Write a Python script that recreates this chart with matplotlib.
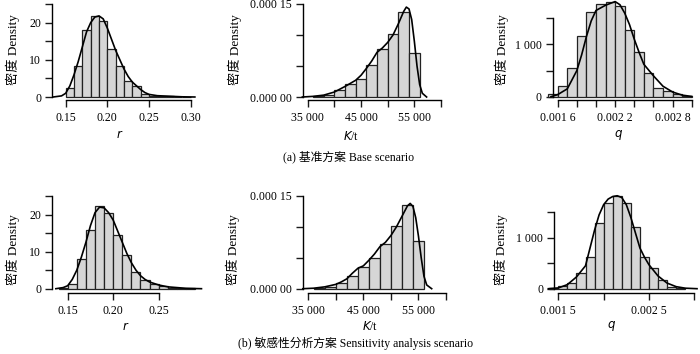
import matplotlib
matplotlib.use("Agg")
import matplotlib.pyplot as plt

plt.rcParams['font.family'] = ['Liberation Serif', 'Noto Sans CJK SC']
plt.rcParams['font.size'] = 8.5

# ---------------- data ----------------
# (a) base scenario
r_a_edges = [0.15, 0.16, 0.17, 0.18, 0.19, 0.20, 0.21, 0.22, 0.23, 0.24, 0.25, 0.26, 0.27, 0.28, 0.29]
r_a_dens = [2.5, 8.2, 18.0, 21.8, 20.5, 12.9, 8.2, 4.2, 2.9, 0.7, 0.4, 0.2, 0.2, 0.1, 0.1]
r_a_kx = [0.135, 0.145, 0.15, 0.155, 0.16, 0.165, 0.17, 0.175, 0.18, 0.185, 0.19, 0.195, 0.20,
          0.205, 0.21, 0.215, 0.22, 0.225, 0.23, 0.235, 0.24, 0.245, 0.25, 0.26, 0.27, 0.28, 0.29, 0.305]
r_a_ky = [0.0, 0.3, 1.0, 3.0, 6.0, 9.5, 13.5, 17.5, 20.0, 21.5, 21.8, 21.0, 18.5,
          15.5, 12.5, 10.0, 7.5, 5.5, 4.0, 3.0, 2.0, 1.2, 0.7, 0.35, 0.25, 0.15, 0.05, 0.0]

K_a_edges = [36000, 38000, 40000, 42000, 44000, 46000, 48000, 50000, 52000, 54000]
K_a_dens = [2.0e-6, 3.0e-6, 1.08e-5, 2.05e-5, 2.86e-5, 5.23e-5, 7.77e-5, 1.009e-4, 1.376e-4, 7.12e-5]
K_a_kx = [34000, 36000, 38000, 40000, 42000, 44000, 45000, 46000, 47000, 48000, 49000, 50000,
          51000, 52000, 53000, 53500, 54000, 54500, 55000, 55500, 56000, 56500, 57300]
K_a_ky = [0.0, 1.0e-6, 3.0e-6, 8.0e-6, 1.7e-5, 2.7e-5, 3.5e-5, 4.6e-5, 5.8e-5, 7.2e-5, 7.9e-5, 8.8e-5,
          1.0e-4, 1.18e-4, 1.38e-4, 1.45e-4, 1.42e-4, 1.25e-4, 9.0e-5, 5.0e-5, 2.0e-5, 6.0e-6, 0.0]

q_a_edges = [0.0015, 0.0016, 0.0017, 0.0018, 0.0019, 0.0020, 0.0021, 0.0022, 0.0023, 0.0024,
             0.0025, 0.0026, 0.0027, 0.0028, 0.0029]
q_a_dens = [50, 212, 551, 1167, 1628, 1782, 1808, 1731, 1282, 846, 462, 173, 115, 45, 15]
q_a_kx = [0.00153, 0.0016, 0.0017, 0.0018, 0.00185, 0.0019, 0.00195, 0.0020, 0.00205, 0.0021,
          0.0022, 0.00225, 0.0023, 0.00235, 0.0024, 0.00245, 0.0025, 0.0026, 0.0027, 0.0028,
          0.0029, 0.0030]
q_a_ky = [0, 40, 150, 500, 800, 1150, 1450, 1650, 1700, 1750,
          1820, 1760, 1600, 1380, 1100, 850, 620, 400, 200, 90, 30, 5]

# (b) sensitivity analysis scenario
r_b_edges = [0.14, 0.15, 0.16, 0.17, 0.18, 0.19, 0.20, 0.21, 0.22, 0.23, 0.24, 0.25, 0.26, 0.27, 0.28]
r_b_dens = [0.3, 1.2, 7.9, 15.9, 22.3, 20.4, 14.5, 9.0, 4.5, 2.3, 1.4, 0.7, 0.3, 0.2, 0.1]
r_b_kx = [0.137, 0.145, 0.15, 0.155, 0.16, 0.165, 0.17, 0.175, 0.18, 0.185, 0.19, 0.195, 0.20,
          0.205, 0.21, 0.215, 0.22, 0.225, 0.23, 0.235, 0.24, 0.25, 0.26, 0.27, 0.28, 0.297]
r_b_ky = [0.0, 0.3, 0.8, 2.5, 5.0, 8.5, 12.5, 17.0, 20.5, 22.0, 21.8, 20.5, 18.5,
          15.5, 12.5, 9.5, 7.0, 5.0, 3.5, 2.5, 1.8, 1.0, 0.5, 0.3, 0.1, 0.0]

K_b_edges = [36000, 38000, 40000, 42000, 44000, 46000, 48000, 50000, 52000, 54000]
K_b_dens = [1.6e-6, 2.7e-6, 8.6e-6, 2.05e-5, 3.5e-5, 4.96e-5, 7.18e-5, 1.014e-4, 1.349e-4, 7.72e-5]
K_b_kx = [34000, 36000, 38000, 40000, 41000, 42000, 43000, 44000, 45000, 46000, 47000, 48000,
          49000, 50000, 51000, 52000, 53000, 53500, 54000, 54500, 55000, 55500, 56000, 56500, 57400]
K_b_ky = [0.0, 8.0e-7, 3.0e-6, 7.0e-6, 1.1e-5, 1.6e-5, 2.5e-5, 3.3e-5, 3.7e-5, 4.6e-5, 5.6e-5, 6.8e-5,
          7.5e-5, 8.6e-5, 1.0e-4, 1.17e-4, 1.34e-4, 1.38e-4, 1.33e-4, 1.15e-4, 8.5e-5, 5.0e-5, 2.0e-5,
          6.0e-6, 0.0]

q_b_edges = [0.0014, 0.0015, 0.0016, 0.0017, 0.0018, 0.0019, 0.0020, 0.0021, 0.0022, 0.0023,
             0.0024, 0.0025, 0.0026, 0.0027, 0.0028]
q_b_dens = [10, 52, 118, 300, 614, 1294, 1686, 1817, 1686, 1203, 627, 405, 170, 40, 10]
q_b_kx = [0.00139, 0.0015, 0.0016, 0.0017, 0.0018, 0.00185, 0.0019, 0.00195, 0.0020, 0.00205,
          0.0021, 0.00215, 0.0022, 0.00225, 0.0023, 0.00235, 0.0024, 0.00245, 0.0025, 0.0026,
          0.0027, 0.0028, 0.0029, 0.00303]
q_b_ky = [0, 15, 80, 230, 450, 800, 1150, 1450, 1650, 1760,
          1810, 1825, 1790, 1650, 1400, 1100, 800, 620, 470, 250, 110, 40, 10, 0]

# ticks and labels
r_a_xticks = [0.15, 0.20, 0.25, 0.30]
r_a_xlabels = ['0.15', '0.20', '0.25', '0.30']
r_b_xticks = [0.15, 0.20, 0.25]
r_b_xlabels = ['0.15', '0.20', '0.25']
r_yticks = [0, 5, 10, 15, 20, 25]
r_ylabels = ['0', '', '10', '', '20', '']

K_xticks = [35000, 40000, 45000, 50000, 55000, 60000]
K_xlabels = ['35 000', '', '45 000', '', '55 000', '']
K_yticks = [0, 5e-5, 1e-4, 1.5e-4]
K_ylabels = ['0.000 00', '', '', '0.000 15']

q_a_xticks = [0.0016, 0.0018, 0.0020, 0.0022, 0.0024, 0.0026, 0.0028, 0.0030]
q_a_xlabels = ['0.001 6', '', '', '0.002 2', '', '', '0.002 8', '']
q_b_xticks = [0.0015, 0.0020, 0.0025, 0.0030]
q_b_xlabels = ['0.001 5', '', '0.002 5', '']
q_yticks = [0, 500, 1000, 1500]
q_ylabels = ['0', '', '1 000', '']

ylab = '密度 Density'
cap_a = '(a) 基准方案 Base scenario'
cap_b = '(b) 敏感性分析方案 Sensitivity analysis scenario'

W, H = 700, 354
fig = plt.figure(figsize=(W / 100, H / 100), dpi=100)


def panel(axis_px, xa, xb, right_px, y0_px, ytop_px, edges, dens, kx, ky,
          xticks, xlabels, yticks, ylabels, off):
    # place axes so data values land on the same pixels as the original
    sx = (xb[1] - xa[1]) / (xb[0] - xa[0])
    ax = fig.add_axes([axis_px / W, 1 - y0_px / H, (right_px - axis_px) / W, (y0_px - ytop_px) / H])
    ax.set_xlim(xa[0] - (xa[1] - axis_px) / sx, xa[0] + (right_px - xa[1]) / sx)
    ax.set_ylim(0, yticks[-1])
    width = edges[1] - edges[0]
    ax.bar(edges, dens, width=width, align='edge', color='#d6d6d6',
           edgecolor='#222222', linewidth=0.9, clip_on=False, zorder=2)
    ax.plot(kx, ky, color='black', linewidth=1.2, clip_on=False, zorder=3)
    for s in ['top', 'right']:
        ax.spines[s].set_visible(False)
    ax.spines['left'].set_bounds(yticks[0], yticks[-1])
    ax.spines['bottom'].set_bounds(xticks[0], xticks[-1])
    ax.spines['bottom'].set_position(('outward', off))
    for s in ['left', 'bottom']:
        ax.spines[s].set_linewidth(1.0)
    ax.set_xticks(xticks)
    ax.set_xticklabels(xlabels)
    ax.set_yticks(yticks)
    ax.set_yticklabels(ylabels)
    ax.tick_params(axis='both', length=5, width=1.0, labelsize=8.5, color='#1a1a1a')
    ax.tick_params(axis='x', pad=3.5)
    ax.tick_params(axis='y', pad=3)
    ax.patch.set_alpha(0)
    return ax


panel(52.3, (0.15, 65.7), (0.30, 190.7), 200, 97, 4, r_a_edges, r_a_dens, r_a_kx, r_a_ky,
      r_a_xticks, r_a_xlabels, r_yticks, r_ylabels, 2.2)
panel(302.7, (35000, 307.7), (60000, 441), 450, 97, 4, K_a_edges, K_a_dens, K_a_kx, K_a_ky,
      K_xticks, K_xlabels, K_yticks, K_ylabels, 2.2)
panel(552.7, (0.0016, 557.7), (0.0030, 691.7), 699, 96.7, 18.3, q_a_edges, q_a_dens, q_a_kx, q_a_ky,
      q_a_xticks, q_a_xlabels, q_yticks, q_ylabels, 2.2)
panel(52.3, (0.15, 67.7), (0.25, 158.7), 205, 288.7, 196, r_b_edges, r_b_dens, r_b_kx, r_b_ky,
      r_b_xticks, r_b_xlabels, r_yticks, r_ylabels, 3.0)
panel(302.7, (35000, 308.3), (60000, 446), 455, 288.7, 196, K_b_edges, K_b_dens, K_b_kx, K_b_ky,
      K_xticks, K_xlabels, K_yticks, K_ylabels, 3.0)
panel(554.3, (0.0015, 558.3), (0.0030, 694.3), 699, 288.7, 212.3, q_b_edges, q_b_dens, q_b_kx, q_b_ky,
      q_b_xticks, q_b_xlabels, q_yticks, q_ylabels, 3.0)


def txt(x, y, s, size=8.5, **kw):
    fig.text(x / W, 1 - y / H, s, ha='center', va='center', fontsize=size, **kw)


# y labels
for x, y in [(13, 50), (235, 50), (502, 50), (13, 250), (233, 250), (501, 250)]:
    txt(x, y, ylab, size=9.5, rotation=90)

# x labels
txt(120, 135, r'$r$')
txt(619, 135, r'$q$')
txt(126, 327, r'$r$')
txt(612, 326, r'$q$')
txt(351, 137, r'$K$/t')
txt(370, 327, r'$K$/t')

txt(349, 157, cap_a)
txt(356, 343, cap_b)

fig.savefig('out.png', dpi=100)
